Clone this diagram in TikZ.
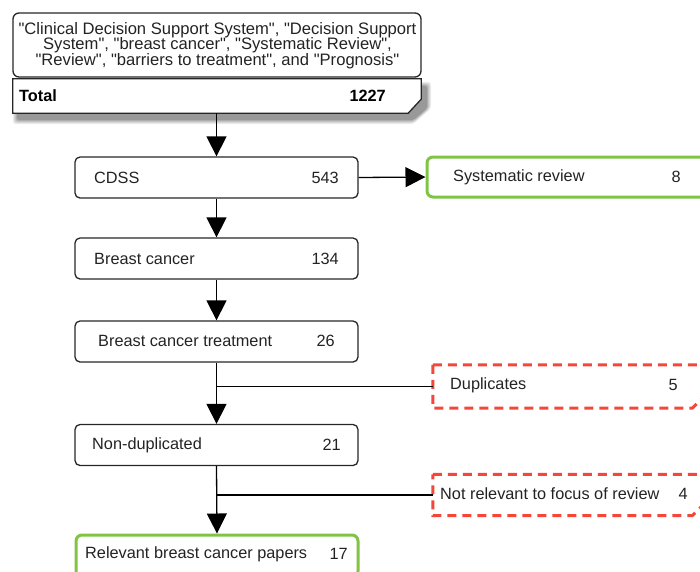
\documentclass[tikz,border=0pt]{standalone}
\usepackage{fontspec}
\setmainfont{Liberation Sans}[Ligatures=TeXOff]
\usetikzlibrary{arrows.meta,calc}
\definecolor{ggreen}{RGB}{128,196,68}
\definecolor{rred}{RGB}{245,70,58}
\definecolor{txt}{RGB}{35,35,35}
\begin{document}
\begin{tikzpicture}[x=1pt,y=-1pt,
  font=\fontsize{16.3}{15.5}\selectfont, text=txt,
  box/.style={draw=black!85, line width=1.3pt, rounded corners=5pt, minimum width=283pt, minimum height=41pt, inner sep=0pt},
  gbox/.style={draw=ggreen, line width=3pt, rounded corners=6pt, minimum height=40pt, inner sep=0pt},
  holder/.style={draw=none, inner sep=0pt},
  rdash/.style={draw=rred, line width=3pt, dash pattern=on 9pt off 6pt},
  arr/.style={line width=1.3pt, draw=black, -{Triangle[width=20pt,length=20pt]}},
  conn/.style={line width=1.3pt, draw=black},
  lbl/.style={anchor=west, inner sep=0pt},
  num/.style={anchor=east, inner sep=0pt}]
\useasboundingbox (0,0) rectangle (700,571);
\clip (0,0) rectangle (700,571);

% top block
\node[box, rounded corners=6pt, minimum width=408pt, minimum height=64pt] (query) at (217,45) {};
\node[align=center, inner sep=0pt, font=\fontsize{16.6}{15.5}\selectfont] (qtext) at (217.5,45.5) {"Clinical Decision Support System", "Decision Support\\System", "breast cancer", "Systematic Review",\\"Review", "barriers to treatment", and "Prognosis"};
\node[holder, minimum width=408pt, minimum height=34pt] (total) at (217,96) {};
% shadow
\foreach \w/\o in {10/0.07,8/0.08,6/0.09,4/0.11,2/0.13}{
  \fill[black, opacity=\o, rounded corners=3pt]
    ($(total.north west)+(5-\w/2,8-\w/2)$) -- ($(total.north east)+(5+\w/2,8-\w/2)$)
    -- ($(total.south east)+(5+\w/2,-5)$) -- ($(total.south east)+(-8,6+\w/2)$)
    -- ($(total.south west)+(5-\w/2,6+\w/2)$) -- cycle;
}
\filldraw[fill=white, draw=black!85, line width=1.3pt]
  (total.north west) -- (total.north east) -- ($(total.south east)+(0,-14)$)
  -- ($(total.south east)+(-13,0)$) -- (total.south west) -- cycle;
\node[lbl, text=black, font=\fontsize{16.3}{16}\selectfont\bfseries] (totl) at (19,96) {Total};
\node[num, text=black, font=\fontsize{16.3}{16}\selectfont\bfseries] (totn) at (386,96) {1227};

% main column
\node[box] (cdss) at (216.5,177.5) {};
\node[lbl] (cdssl) at (94,178) {CDSS};
\node[num] (cdssn) at (339,178) {543};

\node[box] (bc) at (216.5,258.5) {};
\node[lbl] (bcl) at (94,259) {Breast cancer};
\node[num] (bcn) at (339,259) {134};

\node[box] (bct) at (216.5,341.5) {};
\node[lbl] (bctl) at (98,341) {Breast cancer treatment};
\node[num] (bctn) at (335,341) {26};

\node[box] (nd) at (216.5,445) {};
\node[lbl] (ndl) at (92,445) {Non-duplicated};
\node[num] (ndn) at (341,445) {21};

\node[gbox, minimum width=282pt, minimum height=42pt] (rel) at (217,556) {};
\node[lbl] (rell) at (85,554) {Relevant breast cancer papers};
\node[num] (reln) at (348,554) {17};

% side boxes
\node[gbox, minimum width=285pt] (sr) at (569.5,177) {};
\node[lbl] (srl) at (453,177) {Systematic review};
\node[num] (srn) at (681,177) {8};

\node[holder, minimum width=272pt, minimum height=43pt] (dup) at (569,386.5) {};
\draw[rdash] (dup.north west) -- (dup.north east) -- ($(dup.south east)+(0,-13)$)
  -- ($(dup.south east)+(-13,0)$) -- (dup.south west) -- cycle;
\node[lbl] (dupl) at (450,385) {Duplicates};
\node[num] (dupn) at (678,385) {5};

\node[holder, minimum width=272pt, minimum height=41pt] (nr) at (569,495) {};
\draw[rdash] (nr.north west) -- (nr.north east) -- ($(nr.south east)+(0,-13)$)
  -- ($(nr.south east)+(-13,0)$) -- (nr.south west) -- cycle;
\node[lbl] (nrl) at (440,494) {Not relevant to focus of review};
\node[num] (nrn) at (688,494) {4};

% connectors
\draw[arr] (total.south -| cdss.north) -- (cdss.north);
\draw[arr] (cdss.east) -- (sr.west);
\draw[arr] (cdss.south) -- (bc.north);
\draw[arr] (bc.south) -- (bct.north);
\draw[arr] (bct.south) -- (nd.north);
\draw[arr] (nd.south) -- (rel.north);
\coordinate (b1) at (216.5,386.5);
\coordinate (b2) at (216.5,495);
\draw[conn] (b1) -- (dup.west);
\draw[conn] (b2) -- (nr.west);
\end{tikzpicture}
\end{document}
